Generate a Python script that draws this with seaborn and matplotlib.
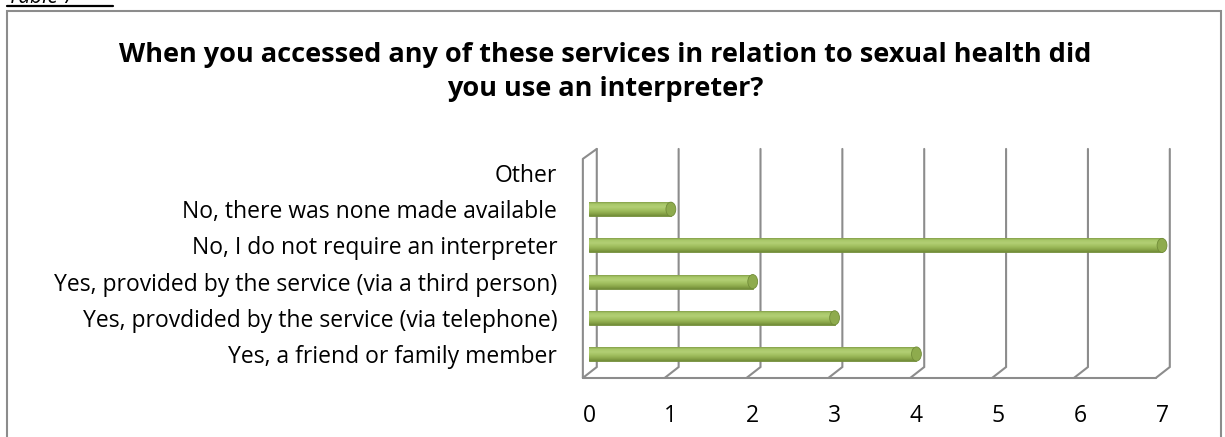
import numpy as np
import matplotlib
matplotlib.use("Agg")
import matplotlib.pyplot as plt
from matplotlib.patches import Rectangle, Ellipse
from matplotlib.lines import Line2D
from matplotlib.colors import LinearSegmentedColormap
import seaborn as sns

# Survey responses
categories = [
    "Other",
    "No, there was none made available",
    "No, I do not require an interpreter",
    "Yes, provided by the service (via a third person)",
    "Yes, provdided by the service (via telephone)",
    "Yes, a friend or family member",
]
counts = [0, 1, 7, 2, 3, 4]
x_ticks = [0, 1, 2, 3, 4, 5, 6, 7]
title = ("When you accessed any of these services in relation to sexual health did\n"
         "you use an interpreter?")

sns.set_theme(style="white")
plt.rcParams["font.family"] = ["Open Sans", "DejaVu Sans"]

W, H = 1225, 437
fig = plt.figure(figsize=(W / 100, H / 100), dpi=100)

# Outer chart frame
fig.patches.append(Rectangle((7 / W, -0.05), (1221 - 7) / W, 1.05 - 11 / H,
                             transform=fig.transFigure, fill=False,
                             edgecolor="#8c8c8c", linewidth=1.5))

# Caption above the frame (its upper part falls outside the image)
fig.text(8 / W, 1 - 3 / H, "Table 7", fontsize=15, style="italic",
         va="baseline", ha="left", color="black")
fig.lines.append(Line2D([7 / W, 113 / W], [1 - 6 / H, 1 - 6 / H],
                        transform=fig.transFigure, color="black", linewidth=1.6))

fig.text(605 / W, 1 - 72 / H, title, ha="center", va="center", fontsize=19.5,
         fontweight="bold", linespacing=1.36, color="black")

# Plot area
xmin, xmax = -0.15, 7.2
ytop, ybot = -0.72, 5.72
px_per_x = 81.86
px_per_y = 36.2
left_px = 589 + xmin * px_per_x
right_px = 589 + xmax * px_per_x
top_px = 173 + ytop * px_per_y
bot_px = 173 + ybot * px_per_y
ax = fig.add_axes([left_px / W, 1 - bot_px / H, (right_px - left_px) / W,
                   (bot_px - top_px) / H])

bar_h = 0.39
sns.barplot(x=counts, y=categories, order=categories, orient="h",
            color="#9bbb59", width=bar_h, ax=ax, zorder=3)

ax.set_xlim(xmin, xmax)
ax.set_ylim(ybot, ytop)
for s in ax.spines.values():
    s.set_visible(False)
ax.set_xlabel("")
ax.set_ylabel("")
ax.set_xticks(x_ticks)
ax.set_xticklabels([str(t) for t in x_ticks])
ax.tick_params(axis="x", length=0, pad=17, labelsize=16.5, colors="black")
ax.tick_params(axis="y", length=0, pad=14, labelsize=16.5, colors="black")
ax.patch.set_alpha(0)

# Pseudo-3D walls: back wall gridlines, floor and left wall
grid_c = "#8c8c8c"
lw = 1.5
dx_back, dx_front = 0.095, -0.075
y_back_top, y_back_bot = -0.665, 5.36
y_front_top, y_front_bot = -0.39, 5.66
for v in x_ticks:
    xb = v + dx_back
    xf = v + dx_front
    ax.plot([xb, xb, xf], [y_back_top, y_back_bot, y_front_bot], color=grid_c,
            lw=lw, zorder=1, clip_on=False, solid_joinstyle="miter")
# floor front edge
ax.plot([dx_front, x_ticks[-1] + dx_front], [y_front_bot, y_front_bot],
        color=grid_c, lw=lw, zorder=1, clip_on=False)
# left wall front edge and top
ax.plot([dx_front, dx_front, dx_back], [y_front_bot, y_front_top, y_back_top],
        color=grid_c, lw=lw, zorder=1, clip_on=False)

# Cylinder shading on bars
cmap = LinearSegmentedColormap.from_list(
    "cyl", ["#738e3a", "#a9c86a", "#b2cf74", "#a2c060", "#8eab4d", "#718c38"])
grad = np.linspace(0, 1, 64).reshape(-1, 1)
for p in ax.patches:
    x0, y0 = p.get_x(), p.get_y()
    w, h = p.get_width(), p.get_height()
    if w <= 0:
        continue
    p.set_edgecolor("#718c38")
    p.set_linewidth(0.6)
    im = ax.imshow(grad, cmap=cmap, aspect="auto",
                   extent=(x0, x0 + w, y0 + h, y0), zorder=3.5,
                   interpolation="bilinear")
    im.set_clip_path(p)
    cap = Ellipse((x0 + w, y0 + h / 2), 0.12, h, facecolor="#8eab4d",
                  edgecolor="#718c38", linewidth=0.6, zorder=4)
    ax.add_patch(cap)

ax.set_xlim(xmin, xmax)
ax.set_ylim(ybot, ytop)

fig.savefig("out.png", dpi=100)
